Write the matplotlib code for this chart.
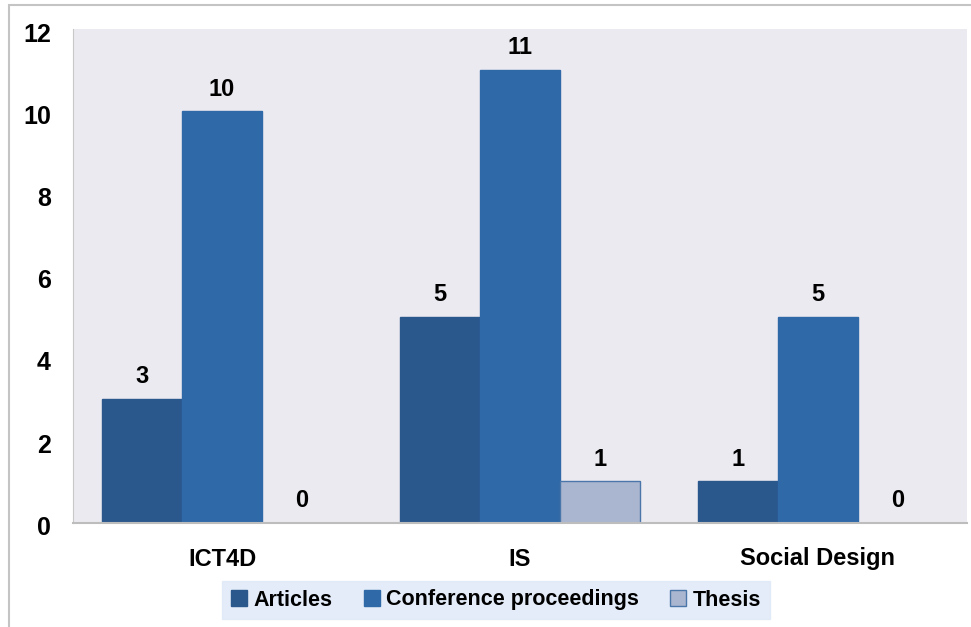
import numpy as np
import matplotlib.pyplot as plt
from matplotlib.patches import Rectangle
from matplotlib.transforms import ScaledTranslation

# data
categories = ["ICT4D", "IS", "Social Design"]
articles = [3, 5, 1]
conference = [10, 11, 5]
thesis = [0, 1, 0]
series_names = ["Articles", "Conference proceedings", "Thesis"]

plt.rcParams['font.family'] = ['Liberation Sans', 'DejaVu Sans']
plt.rcParams['font.weight'] = 'bold'

fig = plt.figure(figsize=(9.71, 6.27), dpi=100)
ax = fig.add_axes([73/971, 1 - 522.5/627, (967-73)/971, (522.5-29)/627])

# outer frame (top + left edges visible)
fig.patches.append(Rectangle((9/971, -0.1), 1.2, 1.1 - 5/627, transform=fig.transFigure,
                             fill=False, edgecolor='#c4c4c4', linewidth=1.5))

x = np.arange(len(categories))
w = 0.268
colors = ['#2a578c', '#2f69a7', '#aab6cf']
edges = ['#2a578c', '#2f69a7', '#4a76aa']
handles = []
for i, (vals, name) in enumerate(zip([articles, conference, thesis], series_names)):
    bars = ax.bar(x + (i - 1) * w, vals, w, color=colors[i], edgecolor=edges[i],
                  linewidth=1.0, label=name, zorder=2)
    handles.append(bars)
    for b, v in zip(bars, vals):
        ax.text(b.get_x() + b.get_width() / 2, v + 0.26, str(v), ha='center', va='bottom',
                fontsize=17, fontweight='bold', color='black')

ax.set_xlim(-0.5, 2.5)
ax.set_ylim(0, 12)
ax.set_yticks(range(0, 13, 2))
ax.set_xticks(x)
ax.set_xticklabels(categories, fontsize=17, fontweight='bold')
ax.tick_params(axis='y', labelsize=18, length=0, pad=16)
ax.tick_params(axis='x', length=0, pad=18)
# y labels sit a little below their gridline in the original
shift = ScaledTranslation(0, -3/100, fig.dpi_scale_trans)
for lab in ax.get_yticklabels():
    lab.set_fontweight('bold')
    lab.set_transform(lab.get_transform() + shift)
ax.set_facecolor('#ebeaf0')
for s in ['top', 'right']:
    ax.spines[s].set_visible(False)
ax.spines['left'].set_color('#c8c8c8')
ax.spines['bottom'].set_color('#bdbdbd')
ax.spines['bottom'].set_linewidth(1.5)

leg = fig.legend(handles=handles, labels=series_names, loc='center',
                 bbox_to_anchor=(496/971, 1 - 600/627), ncol=3, fontsize=15.5,
                 frameon=True, fancybox=False, handlelength=0.75, handleheight=0.75,
                 handletextpad=0.3, columnspacing=1.45, borderpad=0.4)
leg.get_frame().set_facecolor('#dde8f7')
leg.get_frame().set_edgecolor('#dde8f7')
for t in leg.get_texts():
    t.set_fontweight('bold')

fig.savefig('out.png', dpi=100)
